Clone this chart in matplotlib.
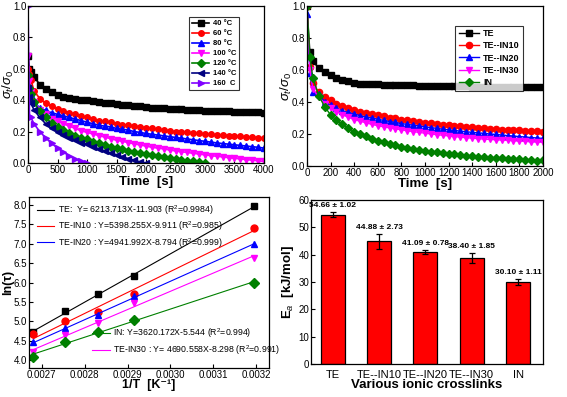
import matplotlib
matplotlib.use('Agg')
import matplotlib.pyplot as plt
import numpy as np

plt.rcParams['font.family'] = ['Liberation Sans', 'DejaVu Sans']
plt.rcParams['mathtext.fontset'] = 'custom'
plt.rcParams['mathtext.rm'] = 'Liberation Sans'
plt.rcParams['mathtext.it'] = 'Liberation Sans:italic'
plt.rcParams['mathtext.bf'] = 'Liberation Sans:bold'

# ---- panel (a): stress relaxation at different temperatures ----
t_a = [0, 25, 50] + list(range(100, 4001, 100))
temp_labels = ['40 \u00b0C', '60 \u00b0C', '80 \u00b0C', '100 \u00b0C', '120 \u00b0C', '140 \u00b0C', '160  C']
s40 = [0.68, 0.60, 0.58, 0.55, 0.50, 0.47, 0.45, 0.43, 0.42, 0.415, 0.41, 0.40, 0.40, 0.395, 0.39,
       0.385, 0.38, 0.375, 0.372, 0.368, 0.364, 0.36, 0.355, 0.352, 0.35, 0.348, 0.346, 0.344,
       0.342, 0.34, 0.338, 0.336, 0.334, 0.333, 0.331, 0.33, 0.329, 0.327, 0.325, 0.324, 0.323,
       0.322, 0.32]
s60 = [0.60, 0.57, 0.53, 0.46, 0.41, 0.38, 0.36, 0.345, 0.33, 0.32, 0.31, 0.30, 0.29, 0.28, 0.27,
       0.265, 0.26, 0.25, 0.245, 0.24, 0.235, 0.23, 0.225, 0.22, 0.215, 0.21, 0.205, 0.20, 0.198,
       0.195, 0.19, 0.188, 0.185, 0.182, 0.18, 0.178, 0.175, 0.172, 0.17, 0.168, 0.165, 0.162, 0.158]
s80 = [0.56, 0.50, 0.44, 0.39, 0.35, 0.335, 0.32, 0.31, 0.30, 0.29, 0.28, 0.27, 0.26, 0.25, 0.24,
       0.235, 0.23, 0.22, 0.215, 0.21, 0.20, 0.195, 0.188, 0.183, 0.178, 0.173, 0.168, 0.163,
       0.158, 0.153, 0.148, 0.143, 0.138, 0.133, 0.128, 0.124, 0.12, 0.116, 0.112, 0.108, 0.104,
       0.10, 0.095]
s100 = [0.68, 0.52, 0.45, 0.39, 0.34, 0.31, 0.28, 0.265, 0.25, 0.235, 0.22, 0.205, 0.195, 0.185,
        0.175, 0.165, 0.155, 0.145, 0.138, 0.13, 0.122, 0.115, 0.108, 0.10, 0.095, 0.09, 0.083,
        0.077, 0.072, 0.067, 0.062, 0.057, 0.052, 0.047, 0.043, 0.039, 0.034, 0.03, 0.026, 0.022,
        0.018, 0.014, 0.01]
s120 = [0.56, 0.48, 0.44, 0.39, 0.33, 0.29, 0.255, 0.23, 0.21, 0.19, 0.175, 0.16, 0.15, 0.135,
        0.125, 0.115, 0.105, 0.095, 0.087, 0.078, 0.07, 0.062, 0.055, 0.048, 0.042, 0.036, 0.03,
        0.025, 0.02, 0.015, 0.01, 0.006, 0.002]
s140 = [0.48, 0.42, 0.38, 0.34, 0.29, 0.25, 0.22, 0.20, 0.18, 0.16, 0.145, 0.13, 0.12, 0.105,
        0.09, 0.077, 0.064, 0.052, 0.04, 0.028, 0.017, 0.007, 0.0]
s160 = [1.0, 0.30, 0.29, 0.25, 0.20, 0.16, 0.125, 0.095, 0.07, 0.045, 0.025, 0.01, 0.0]

# ---- panel (b): different ionic crosslinks ----
t_b = [0, 25] + list(range(50, 2001, 50))
cross_labels = ['TE', 'TE--IN10', 'TE--IN20', 'TE--IN30', 'IN']
b_TE = [1.0, 0.71, 0.655, 0.61, 0.585, 0.567, 0.553, 0.54, 0.53, 0.52, 0.515, 0.512, 0.511, 0.51,
        0.509, 0.508, 0.507, 0.506, 0.505, 0.504, 0.503, 0.502, 0.501, 0.50, 0.499, 0.498, 0.498,
        0.497, 0.497, 0.496, 0.496, 0.495, 0.495, 0.494, 0.494, 0.493, 0.493, 0.492, 0.492, 0.492,
        0.491, 0.491]
b_IN10 = [1.0, 0.62, 0.52, 0.46, 0.43, 0.41, 0.39, 0.375, 0.36, 0.35, 0.34, 0.33, 0.325, 0.318,
          0.31, 0.303, 0.297, 0.29, 0.285, 0.28, 0.275, 0.27, 0.266, 0.262, 0.258, 0.255, 0.252,
          0.249, 0.246, 0.243, 0.24, 0.237, 0.234, 0.231, 0.228, 0.226, 0.224, 0.222, 0.22,
          0.218, 0.216, 0.214]
b_IN20 = [0.95, 0.58, 0.46, 0.45, 0.40, 0.38, 0.36, 0.345, 0.335, 0.325, 0.315, 0.305, 0.30,
          0.292, 0.285, 0.278, 0.272, 0.265, 0.26, 0.255, 0.25, 0.245, 0.24, 0.235, 0.23, 0.226,
          0.222, 0.218, 0.214, 0.21, 0.207, 0.204, 0.20, 0.197, 0.194, 0.19, 0.187, 0.184, 0.181,
          0.178, 0.175, 0.172]
b_IN30 = [1.0, 0.60, 0.48, 0.43, 0.39, 0.365, 0.34, 0.32, 0.305, 0.29, 0.28, 0.27, 0.26, 0.252,
          0.245, 0.238, 0.232, 0.226, 0.22, 0.215, 0.21, 0.205, 0.20, 0.196, 0.192, 0.188, 0.184,
          0.18, 0.177, 0.174, 0.171, 0.168, 0.166, 0.164, 0.162, 0.16, 0.158, 0.156, 0.154, 0.152,
          0.15, 0.148]
b_IN = [1.0, 0.68, 0.55, 0.44, 0.37, 0.32, 0.285, 0.26, 0.235, 0.215, 0.20, 0.185, 0.17, 0.158,
        0.148, 0.14, 0.13, 0.12, 0.112, 0.105, 0.10, 0.094, 0.09, 0.085, 0.08, 0.076, 0.072,
        0.068, 0.065, 0.062, 0.059, 0.056, 0.053, 0.05, 0.048, 0.046, 0.044, 0.042, 0.04, 0.035,
        0.03, 0.035]

# ---- panel (c): Arrhenius plot ----
inv_T = [0.00268, 0.002754, 0.002832, 0.002914, 0.003195]
ln_TE = [4.73, 5.27, 5.70, 6.18, 7.97]
ln_IN10 = [4.67, 5.00, 5.25, 5.70, 7.41]
ln_IN20 = [4.47, 4.82, 5.17, 5.65, 6.99]
ln_IN30 = [4.20, 4.65, 4.97, 5.48, 6.64]
ln_IN = [4.08, 4.47, 4.72, 5.03, 5.98]
slopes = [6213.713, 5398.255, 4941.992, 4690.558, 3620.172]
intercepts = [-11.903, -9.911, -8.794, -8.298, -5.544]
fit_labels = ['TE:  Y= 6213.713X-11.903 (R$^2$=0.9984)',
              'TE-IN10 : Y=5398.255X-9.911 (R$^2$=0.985)',
              'TE-IN20 : Y=4941.992X-8.794 (R$^2$=0.999)',
              'TE-IN30 : Y= 4690.558X-8.298 (R$^2$=0.991)',
              'IN: Y=3620.172X-5.544 (R$^2$=0.994)']

# ---- panel (d): activation energy ----
Ea = [54.66, 44.88, 41.09, 38.9, 30.10]
Ea_err = [1.02, 2.73, 0.78, 1.85, 1.11]
Ea_text = ['54.66 \u00b1 1.02', '44.88 \u00b1 2.73', '41.09 \u00b1 0.78', '38.40 \u00b1 1.85', '30.10 \u00b1 1.11']

colors = ['black', '#ff0000', '#0000ff', '#ff00ff', '#008000', '#000080', '#8000ff']
markers = ['s', 'o', '^', 'v', 'D', '<', '>']

fig = plt.figure(figsize=(5.67, 3.97), dpi=100)
ax1 = fig.add_axes([0.0494, 0.5894, 0.4162, 0.3955])
ax2 = fig.add_axes([0.5414, 0.5819, 0.4162, 0.4030])
ax3 = fig.add_axes([0.0511, 0.0730, 0.4233, 0.4307])
ax4 = fig.add_axes([0.5485, 0.0831, 0.4092, 0.4131])

tick_fs = 7
lab_fs = 9.5

def style(ax, xl, yl):
    ax.tick_params(direction='in', labelsize=tick_fs, length=3, width=0.8)
    ax.tick_params(axis='x', pad=1.5)
    ax.tick_params(axis='y', pad=1.2)
    for s in ax.spines.values():
        s.set_linewidth(0.9)
    ax.xaxis.set_label_coords(0.5, xl)
    ax.xaxis.label.set_va('center')
    ax.yaxis.set_label_coords(yl, 0.5)
    ax.yaxis.label.set_va('center')

# panel a
for vals, c, m, lab in zip([s40, s60, s80, s100, s120, s140, s160], colors, markers, temp_labels):
    ax1.plot(t_a[:len(vals)], vals, color=c, marker=m, ms=4, lw=1.2, label=lab)
ax1.set_xlim(0, 4000)
ax1.set_ylim(0, 1.0)
ax1.set_xticks(range(0, 4001, 500))
ax1.set_yticks(np.arange(0, 1.01, 0.2))
ax1.set_yticklabels(['0.0', '0.2', '0.4', '0.6', '0.8', '1.0'])
ax1.set_xlabel('Time  [s]', fontsize=lab_fs, fontweight='bold')
ax1.set_ylabel(r'$\sigma_t/\sigma_0$', fontsize=lab_fs)
leg = ax1.legend(loc='upper right', bbox_to_anchor=(0.911, 0.955), frameon=True,
                 fancybox=False, edgecolor='black', handlelength=2.2, labelspacing=0.35,
                 borderpad=0.4, handletextpad=0.5, prop={'weight': 'bold', 'size': 5.5})
leg.get_frame().set_linewidth(0.8)
style(ax1, -0.121, -0.085)

# panel b
for vals, c, m, lab in zip([b_TE, b_IN10, b_IN20, b_IN30, b_IN], colors, markers, cross_labels):
    ax2.plot(t_b, vals, color=c, marker=m, ms=4.5, lw=1.0, label=lab)
ax2.set_xlim(0, 2000)
ax2.set_ylim(0, 1.0)
ax2.set_xticks(range(0, 2001, 200))
ax2.set_yticks(np.arange(0, 1.01, 0.2))
ax2.set_yticklabels(['0.0', '0.2', '0.4', '0.6', '0.8', '1.0'])
ax2.set_xlabel('Time  [s]', fontsize=lab_fs, fontweight='bold')
ax2.set_ylabel(r'$\sigma_t/\sigma_0$', fontsize=lab_fs)
leg = ax2.legend(loc='upper right', bbox_to_anchor=(0.936, 0.905), frameon=True, fancybox=False,
                 edgecolor='black', handlelength=2.2, labelspacing=0.35, borderpad=0.4,
                 handletextpad=0.5, prop={'weight': 'bold', 'size': 6.5})
leg.get_frame().set_linewidth(0.8)
style(ax2, -0.1125, -0.088)

# panel c
series_c = [ln_TE, ln_IN10, ln_IN20, ln_IN30, ln_IN]
c_colors = ['black', '#ff0000', '#0000ff', '#ff00ff', '#008000']
c_markers = ['s', 'o', '^', 'v', 'D']
xfit = np.array([min(inv_T), max(inv_T)])
lines = []
for vals, c, m, k, b, lab in zip(series_c, c_colors, c_markers, slopes, intercepts, fit_labels):
    ax3.plot(inv_T, vals, color=c, marker=m, ms=5, ls='none')
    ln, = ax3.plot(xfit, k * xfit + b, color=c, lw=0.8, label=lab)
    lines.append(ln)
ax3.set_xlim(0.00267, 0.00323)
ax3.set_ylim(3.8, 8.2)
ax3.set_xticks(np.arange(0.0027, 0.00321, 0.0001))
ax3.set_xticklabels(['0.0027', '0.0028', '0.0029', '0.0030', '0.0031', '0.0032'])
ax3.set_yticks(np.arange(4.0, 8.01, 0.5))
ax3.set_yticklabels(['%.1f' % v for v in np.arange(4.0, 8.01, 0.5)])
ax3.set_xlabel('1/T  [K\u207b\u00b9]', fontsize=9, fontweight='bold')
ax3.set_ylabel('ln(\u03c4)', fontsize=9, fontweight='bold')
leg1 = ax3.legend(handles=lines[:3], loc='upper left', bbox_to_anchor=(0.0, 1.01), frameon=False,
                  fontsize=6.3, handlelength=2.0, labelspacing=0.3, handletextpad=0.4)
ax3.add_artist(leg1)
ax3.legend(handles=[lines[4], lines[3]], loc='lower left', bbox_to_anchor=(0.23, 0.02),
           frameon=False, fontsize=6.3, handlelength=2.0, labelspacing=0.3, handletextpad=0.4)
style(ax3, -0.098, -0.088)

# panel d
xpos = np.arange(len(cross_labels))
ax4.bar(xpos, Ea, width=0.52, color='#ff0000', edgecolor='black', linewidth=0.9,
        yerr=Ea_err, capsize=2.5, error_kw={'elinewidth': 0.9, 'capthick': 0.9})
for x, v, e, s in zip(xpos, Ea, Ea_err, Ea_text):
    ax4.text(x, v + e + 1.0, s, ha='center', va='bottom', fontsize=6, fontweight='bold')
ax4.set_xlim(-0.47, 4.54)
ax4.set_ylim(0, 60)
ax4.set_xticks(xpos)
ax4.set_xticklabels(cross_labels)
ax4.set_yticks(range(0, 61, 10))
ax4.set_xlabel('Various ionic crosslinks', fontsize=lab_fs, fontweight='bold')
ax4.set_ylabel(r'E$_a$  [kJ/mol]', fontsize=lab_fs, fontweight='bold')
style(ax4, -0.128, -0.10)
ax4.tick_params(axis='x', length=0, labelsize=8, pad=4)

fig.savefig('out.png', dpi=100)
